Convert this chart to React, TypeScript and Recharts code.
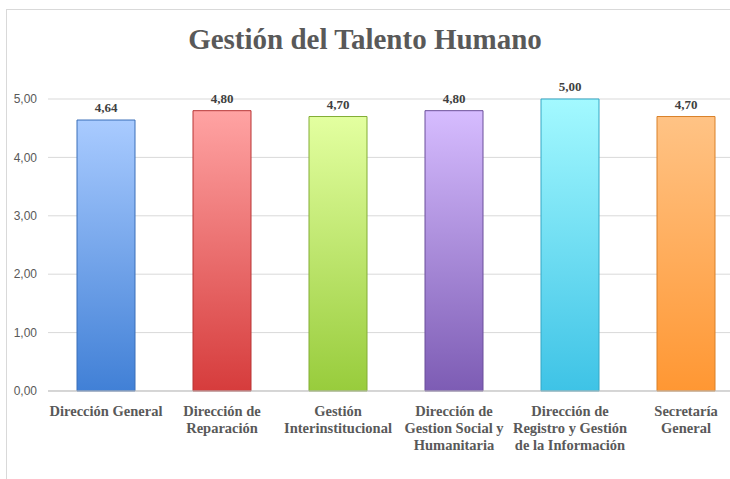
import { BarChart, Bar, XAxis, YAxis, CartesianGrid, Cell, LabelList } from 'recharts';

const categories = [
  'Dirección General',
  'Dirección de\nReparación',
  'Gestión\nInterinstitucional',
  'Dirección de\nGestion Social y\nHumanitaria',
  'Dirección de\nRegistro y Gestión\nde la Información',
  'Secretaría\nGeneral',
];
const values = [4.64, 4.8, 4.7, 4.8, 5.0, 4.7];
const yTicks = [0, 1, 2, 3, 4, 5];

const TOP_COLORS = ['#a9cbff', '#ffa3a3', '#e3ffa0', '#d6bcff', '#a3f9ff', '#ffc385'];
const BOTTOM_COLORS = ['#4180d6', '#d63c3c', '#98cc3c', '#7d5cb4', '#3ec3e6', '#ff9733'];
const EDGE_COLORS = ['#3a6fb8', '#b83434', '#82ad34', '#6a4e9a', '#35a6c4', '#d98029'];

const data = categories.map((name, i) => ({ name, value: values[i] }));

const fmt = (v: number) => v.toFixed(2).replace('.', ',');

function CategoryTick(props: any) {
  const { x, y, payload } = props;
  const lines = String(payload.value).split('\n');
  return (
    <text
      x={x}
      y={y + 4}
      textAnchor="middle"
      fill="#595959"
      fontFamily="'Liberation Serif', serif"
      fontWeight="bold"
      fontSize={14.5}
    >
      {lines.map((l, i) => (
        <tspan key={i} x={x} dy={i === 0 ? 13 : 17}>
          {l}
        </tspan>
      ))}
    </text>
  );
}

export default function App() {
  return (
    <div style={{ position: 'fixed', left: 0, top: 0, width: 730, height: 479, overflow: 'hidden', background: '#fff' }}>
      <div
        style={{
          position: 'absolute',
          left: 6,
          top: 9,
          width: 760,
          height: 500,
          borderLeft: '1px solid #d9d9d9',
          borderTop: '1px solid #d9d9d9',
        }}
      />
      <div
        style={{
          position: 'absolute',
          left: 0,
          top: 23,
          width: 730,
          textAlign: 'center',
          fontFamily: "'Liberation Serif', serif",
          fontWeight: 'bold',
          fontSize: 29,
          color: '#595959',
        }}
      >
        Gestión del Talento Humano
      </div>
      <div style={{ position: 'absolute', left: 0, top: 0 }}>
        <BarChart
          width={744}
          height={479}
          data={data}
          margin={{ top: 99, right: 0, bottom: 0, left: 0 }}
          barCategoryGap="25%"
        >
          <defs>
            {values.map((_, i) => (
              <linearGradient key={i} id={`g${i}`} x1="0" y1="0" x2="0" y2="1">
                <stop offset="0%" stopColor={TOP_COLORS[i]} />
                <stop offset="100%" stopColor={BOTTOM_COLORS[i]} />
              </linearGradient>
            ))}
          </defs>
          <CartesianGrid vertical={false} stroke="#d9d9d9" />
          <XAxis
            dataKey="name"
            interval={0}
            tickLine={false}
            axisLine={{ stroke: '#bfbfbf' }}
            tick={<CategoryTick />}
            height={88}
          />
          <YAxis
            domain={[0, 5]}
            ticks={yTicks}
            width={48}
            tickLine={false}
            axisLine={false}
            tickMargin={5}
            tickFormatter={fmt}
            tick={{ fill: '#595959', fontSize: 12, fontFamily: "'Liberation Sans', sans-serif" }}
          />
          <Bar dataKey="value" isAnimationActive={false}>
            {data.map((_, i) => (
              <Cell key={i} fill={`url(#g${i})`} stroke={EDGE_COLORS[i]} strokeWidth={1} />
            ))}
            <LabelList
              dataKey="value"
              position="top"
              offset={8}
              formatter={(v: any) => fmt(Number(v))}
              fill="#404040"
              fontSize={13}
              fontWeight="bold"
              fontFamily="'Liberation Serif', serif"
            />
          </Bar>
        </BarChart>
      </div>
    </div>
  );
}
